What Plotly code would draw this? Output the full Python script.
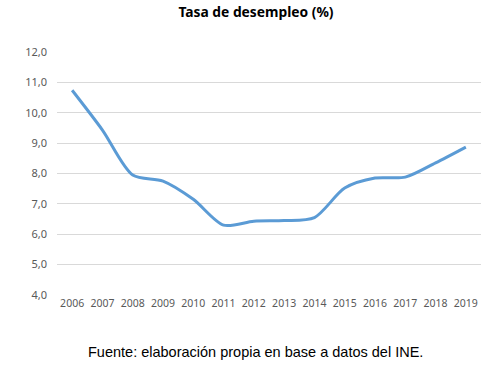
import plotly.graph_objects as go

years = ["2006", "2007", "2008", "2009", "2010", "2011", "2012",
         "2013", "2014", "2015", "2016", "2017", "2018", "2019"]
tasa = [10.74, 9.43, 7.95, 7.75, 7.15, 6.3, 6.43,
        6.45, 6.55, 7.52, 7.85, 7.88, 8.35, 8.87]
y_ticks = [4, 5, 6, 7, 8, 9, 10, 11, 12]

W, H = 502, 374
fig = go.Figure()
fig.add_trace(go.Scatter(
    x=years, y=tasa, mode="lines",
    line=dict(color="#5B9BD5", width=3, shape="spline", smoothing=0.8),
    showlegend=False,
))

fig.update_layout(
    width=W, height=H,
    margin=dict(l=57, r=21, t=52, b=79),
    paper_bgcolor="white", plot_bgcolor="white",
    separators=",.",
    font=dict(family="Noto Sans, DejaVu Sans, sans-serif", color="#595959", size=11),
    title=dict(text="<b>Tasa de desempleo (%)</b>", x=256 / W, xanchor="center",
               y=1 - 7 / H, yanchor="top",
               font=dict(size=13.8, color="black")),
    xaxis=dict(type="category", range=[-0.5, 13.5], showgrid=False,
               showline=False, ticks="", tickfont=dict(size=10.5, color="#595959")),
    yaxis=dict(range=[4, 12], tickvals=y_ticks, tickformat=".1f",
               showgrid=True, gridcolor="#D9D9D9", gridwidth=1,
               zeroline=False, showline=False, ticks="",
               ticklabelstandoff=9, tickfont=dict(size=11, color="#595959")),
    annotations=[dict(
        text="Fuente: elaboración propia en base a datos del INE.",
        xref="paper", yref="paper", x=(255.5 - 57) / (W - 57 - 21), y=-57 / 243,
        xanchor="center", yanchor="middle", showarrow=False,
        font=dict(family="Liberation Sans, Arial, sans-serif", size=14.5, color="black"),
    )],
)

fig.write_html("out.html", config={"displayModeBar": False},
               post_script="document.body.style.margin='0';")
